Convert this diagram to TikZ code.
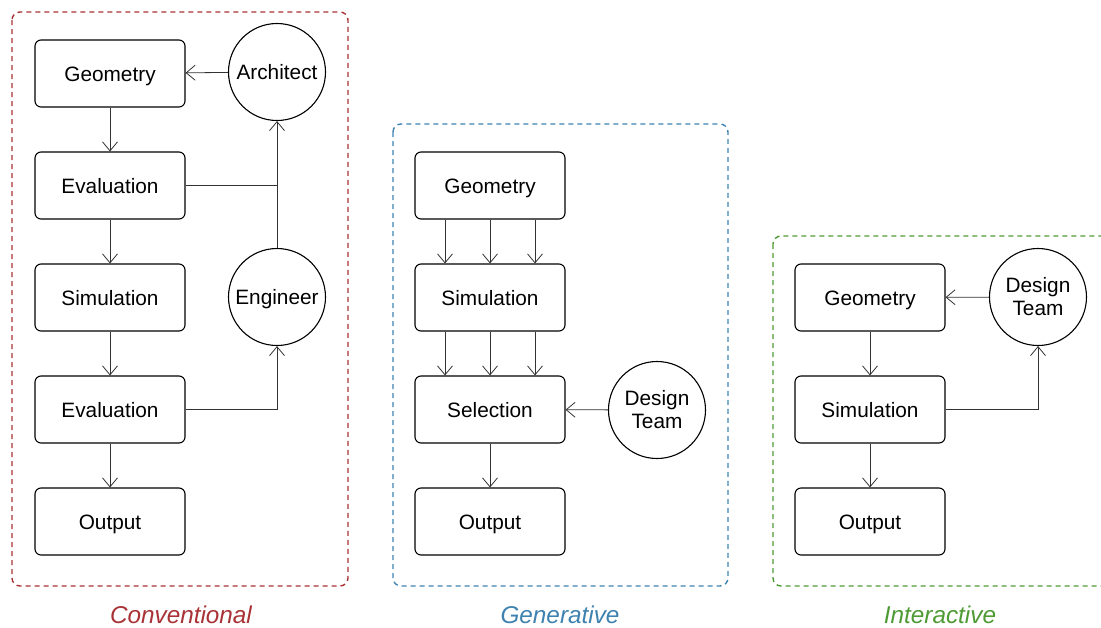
\documentclass[tikz,border=0pt]{standalone}
\usepackage{fontspec}
\setmainfont{Liberation Sans}
\usetikzlibrary{arrows.meta}
\definecolor{convred}{HTML}{A83236}
\definecolor{genblue}{HTML}{3E82B0}
\definecolor{intgreen}{HTML}{4E9A34}
\tikzset{
  stage/.style={draw=black, line width=1.1pt, rounded corners=6pt, minimum width=150pt,
    minimum height=67pt, inner sep=0pt, text height=15pt, text depth=0pt,
    font=\fontsize{20.8}{24}\selectfont},
  actor/.style={draw=black, line width=1.1pt, circle, minimum size=97pt, inner sep=0pt,
    align=center, font=\fontsize{20.8}{23}\selectfont},
  oneline/.style={text height=15pt, text depth=0pt},
  flow/.style={draw=black!80, line width=0.8pt, -{Straight Barb[length=9pt,width=15pt,line width=0.8pt]}},
  link/.style={draw=black!80, line width=0.8pt},
  frame/.style={dashed, dash pattern=on 5pt off 4pt, line width=1.4pt, rounded corners=8pt},
  caption/.style={anchor=base, inner sep=0pt, font=\fontsize{24.3}{27}\selectfont\itshape}
}
\begin{document}
\begin{tikzpicture}[x=1pt,y=-1pt]
\useasboundingbox (0,0) rectangle (1101,627);
\clip (0,0) rectangle (1101,627);

% ---- Conventional workflow ----
\draw[frame, convred] (12,12) rectangle (348,586);
\node[stage] (cgeo)  at (110,73.5)  {Geometry};
\node[stage] (ceva1) at (110,185.5) {Evaluation};
\node[stage] (csim)  at (110,297.5) {Simulation};
\node[stage] (ceva2) at (110,409.5) {Evaluation};
\node[stage] (cout)  at (110,521.5) {Output};
\node[actor, oneline] (arch) at (277,72)  {Architect};
\node[actor, oneline] (eng)  at (277,297) {Engineer};
\coordinate (cjoin) at (277,185.5);
\draw[flow] (cgeo) -- (ceva1);
\draw[flow] (ceva1) -- (csim);
\draw[flow] (csim) -- (ceva2);
\draw[flow] (ceva2) -- (cout);
\draw[flow] (arch) -- (cgeo);
\draw[link] (ceva1.east) -- (cjoin);
\draw[flow] (eng.north) -- (arch.south);
\draw[flow] (ceva2.east) -| (eng.south);
\node[caption, text=convred] (capc) at (181,623) {Conventional};

% ---- Generative workflow ----
\draw[frame, genblue] (393,124) rectangle (728,586);
\node[stage] (ggeo) at (490,185.5) {Geometry};
\node[stage] (gsim) at (490,297.5) {Simulation};
\node[stage] (gsel) at (490,409.5) {Selection};
\node[stage] (gout) at (490,521.5) {Output};
\node[actor] (gteam) at (657,410) {Design\\Team};
\foreach \dx in {-45,0,45} {
  \draw[flow] ([xshift=\dx pt]ggeo.south) -- ([xshift=\dx pt]gsim.north);
  \draw[flow] ([xshift=\dx pt]gsim.south) -- ([xshift=\dx pt]gsel.north);
}
\draw[flow] (gsel) -- (gout);
\draw[flow] (gteam) -- (gsel);
\node[caption, text=genblue] (capg) at (560,623) {Generative};

% ---- Interactive workflow ----
\draw[frame, intgreen] (773,236) rectangle (1115,586);
\node[stage] (igeo) at (870,297.5) {Geometry};
\node[stage] (isim) at (870,409.5) {Simulation};
\node[stage] (iout) at (870,521.5) {Output};
\node[actor] (iteam) at (1038,297) {Design\\Team};
\draw[flow] (igeo) -- (isim);
\draw[flow] (isim) -- (iout);
\draw[flow] (iteam) -- (igeo);
\draw[flow] (isim.east) -| (iteam.south);
\node[caption, text=intgreen] (capi) at (940,623) {Interactive};
\end{tikzpicture}
\end{document}
